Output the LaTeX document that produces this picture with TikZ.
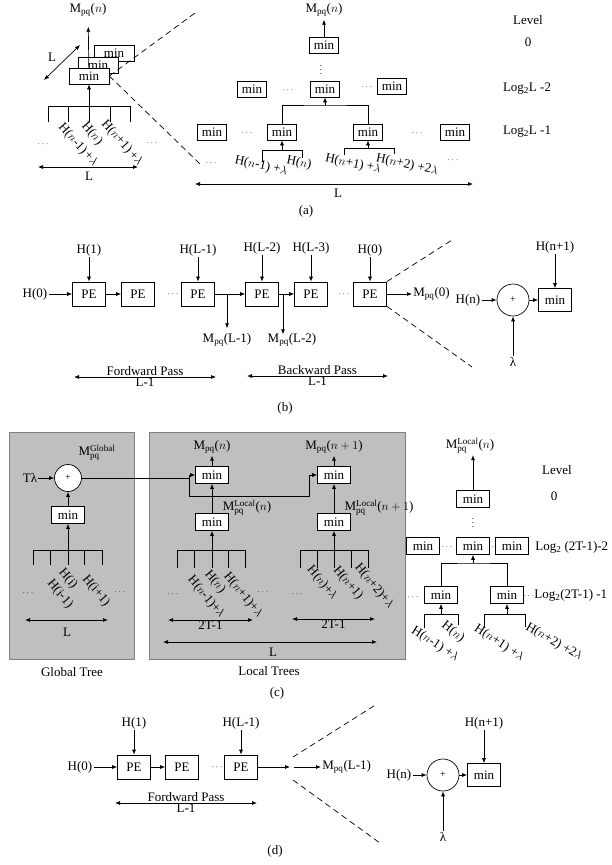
\documentclass[tikz,border=0pt]{standalone}
\usepackage{fontspec}
\setmainfont{Liberation Serif}
\usetikzlibrary{positioning, arrows.meta, calc}
\definecolor{panelfill}{HTML}{BFBFBF}
\definecolor{panelline}{HTML}{7F7F7F}
\newcommand{\Mpq}{M$_{\mathrm{pq}}$}
\newcommand{\Mloc}{M$^{\mathrm{Local}}_{\mathrm{pq}}$}
\newcommand{\Logtwo}{Log\textsubscript{2}}

\begin{document}
\begin{tikzpicture}[
    x=1pt, y=-1pt,
    >={Latex[length=5pt,width=4pt]},
    line width=0.7pt,
    every node/.style={font=\fontsize{13}{15}\selectfont},
    minbox/.style={draw, fill=white, minimum width=33pt, minimum height=17pt, inner sep=1pt},
    smallmin/.style={minbox, minimum width=29pt, minimum height=16pt},
    pebox/.style={draw, fill=white, minimum width=33pt, minimum height=24pt, inner sep=1pt},
    adder/.style={draw, circle, fill=white, minimum size=32pt, inner sep=0pt, font=\fontsize{10}{11}\selectfont},
    txt/.style={inner sep=1pt},
    tilted/.style={inner sep=0pt, rotate=#1},
    dotsnode/.style={inner sep=0pt, font=\fontsize{9}{10}\selectfont},
    guide/.style={dash pattern=on 6pt off 4pt},
    panel/.style={draw=panelline, fill=panelfill, line width=1pt},
]
\useasboundingbox (0,0) rectangle (612,865);

% ---------------- (a) ----------------
% stacked trees on the left
\node[minbox, minimum width=40pt, minimum height=16pt] (aback) at (114,53) {min};
\node[minbox, minimum width=40pt, minimum height=16pt] (amid) at (98,65) {min};
\node[minbox, minimum width=40pt, minimum height=16pt] (afront) at (89,76) {min};
\node[txt] (aout) at (88,10) {\Mpq($n$)};
\draw[->, shorten >=9pt] (afront) -- (aout);
\coordinate (aLa) at (44,80);
\coordinate (aLb) at (80,45);
\draw[<->] (aLa) -- (aLb);
\node[txt] (aLdiag) at (52,57) {L};
\coordinate (acomb) at (89,106);
\draw (48,122) -- (48,106) -- (130,106) -- (130,122)
      (68,106) -- (68,122) (89,106) -- (89,122) (110,106) -- (110,122);
\draw[->] (acomb) -- (afront);
\node[tilted=-48] (ahl1) at (78,145) {H($n$-1)\,+$\lambda$};
\node[tilted=-48] (ahl2) at (92,134) {H($n$)};
\node[tilted=-48] (ahl3) at (122,143) {H($n$+1)\,+$\lambda$};
\node[dotsnode] (ad1) at (43,144) {$\cdots$};
\node[dotsnode] (ad2) at (152,143) {$\cdots$};
\coordinate (aLl0) at (38,167);
\coordinate (aLr0) at (138,167);
\draw[<->] (aLl0) -- (aLr0);
\node[txt] (aL0) at (89,176) {L};
\coordinate (afanu) at (195,13);
\coordinate (afand) at (200,164);
\draw[guide] (afront.east) -- (afanu);
\draw[guide] (afront.east) -- (afand);

% one tree in detail
\node[smallmin] (aroot) at (324,45) {min};
\node[txt] (arootout) at (324,10) {\Mpq($n$)};
\draw[->, shorten >=2pt] (aroot) -- (arootout);
\node[dotsnode] (avd) at (321,67) {$\vdots$};
\node[smallmin] (a2l) at (252,89) {min};
\node[smallmin] (a2m) at (325,89) {min};
\node[smallmin] (a2r) at (392,86) {min};
\node[dotsnode] (a2d1) at (288,90) {$\cdots$};
\node[dotsnode] (a2d2) at (367,87) {$\cdots$};
\node[smallmin] (a1a) at (212,132) {min};
\node[smallmin] (a1b) at (282,132) {min};
\node[smallmin] (a1c) at (368,132) {min};
\node[smallmin] (a1d) at (455,132) {min};
\node[dotsnode] (a1d1) at (247,133) {$\cdots$};
\node[dotsnode] (a1d2) at (417,133) {$\cdots$};
\coordinate (ajoin) at (325,105);
\draw (a1b) |- (ajoin) -| (a1c);
\draw[->] (ajoin) -- (a2m);
\coordinate (acombl) at (282,150);
\coordinate (acombr) at (368,148);
\draw (262,162) -- (262,150) -- (302,150) -- (302,158);
\draw (344,155) -- (344,148) -- (394,148) -- (394,154);
\draw[->] (acombl) -- (a1b);
\draw[->] (acombr) -- (a1c);
\node[tilted=-12] (ah1) at (261,166) {H($n$-1) +$\lambda$};
\node[tilted=-12] (ah2) at (299,163) {H($n$)};
\node[tilted=-12] (ah3) at (353,164) {H($n$+1) +$\lambda$};
\node[tilted=-12] (ah4) at (407,165) {H($n$+2) +2$\lambda$};
\node[dotsnode] (ad3) at (211,163) {$\cdots$};
\node[dotsnode] (ad4) at (453,160) {$\cdots$};
\coordinate (aLl) at (195,184);
\coordinate (aLr) at (473,184);
\draw[<->] (aLl) -- (aLr);
\node[txt] (aL) at (338,193) {L};
\node[txt] (alev) at (528,20) {Level};
\node[txt] (alev0) at (528,42) {0};
\node[txt] (alev2) at (527,89) {\Logtwo L -2};
\node[txt] (alev1) at (527,132) {\Logtwo L -1};
\node[txt] (acap) at (306,211) {(a)};

% ---------------- (b) ----------------
\node[txt] (bh0in) at (35,294) {H(0)};
\node[pebox] (bpe1) at (89,294) {PE};
\node[pebox] (bpe2) at (138,294) {PE};
\node[dotsnode] (bd1) at (173,294) {$\cdots$};
\node[pebox] (bpe3) at (198,294) {PE};
\node[pebox] (bpe4) at (262,294) {PE};
\node[pebox] (bpe5) at (311,294) {PE};
\node[dotsnode] (bd2) at (344,294) {$\cdots$};
\node[pebox] (bpe6) at (370,294) {PE};
\node[txt] (bh1) at (89,250) {H(1)};
\node[txt] (bhl1) at (198,250) {H(L-1)};
\node[txt] (bhl2) at (262,248) {H(L-2)};
\node[txt] (bhl3) at (311,248) {H(L-3)};
\node[txt] (bh0) at (370,250) {H(0)};
\draw[->] (bh0in) -- (bpe1);
\draw[->] (bpe1) -- (bpe2);
\draw[->] (bpe3) -- (bpe4);
\draw[->] (bpe4) -- (bpe5);
\draw[->] (bh1) -- (bpe1);
\draw[->] (bhl1) -- (bpe3);
\draw[->] (bhl2) -- (bpe4);
\draw[->] (bhl3) -- (bpe5);
\draw[->] (bh0) -- (bpe6);
\coordinate (bsplit1) at (227,294);
\coordinate (bsplit2) at (283,294);
\node[txt] (bm1) at (227,340) {\Mpq(L-1)};
\node[txt] (bm2) at (292,340) {\Mpq(L-2)};
\draw[->, shorten >=4pt] (bsplit1) -- (bsplit1 |- bm1.north);
\draw[->, shorten >=-2pt] (bsplit2) -- (bsplit2 |- bm2.north);
\node[txt, anchor=west] (bm0) at (412,294) {\Mpq(0)};
\draw[->] (bpe6) -- (bm0);
\coordinate (bfanu) at (452,240);
\coordinate (bfand) at (472,367);
\draw[guide] (bpe6.north east) -- (bfanu);
\draw[guide] (bpe6.south east) -- (bfand);
\coordinate (bfwl) at (74,377);
\coordinate (bfwr) at (216,377);
\draw[<->] (bfwl) -- (bfwr)
    node[txt, midway, above] (bfwtxt) {Fordward Pass}
    node[txt, midway, below] (bfwlen) {L-1};
\coordinate (bbwl) at (247,376);
\coordinate (bbwr) at (388,376);
\draw[<->] (bbwl) -- (bbwr)
    node[txt, midway, above] (bbwtxt) {Backward Pass}
    node[txt, midway, below] (bbwlen) {L-1};
\node[txt] (bcap) at (285,408) {(b)};
% processing element
\node[adder] (badd) at (513,300) {+};
\node[minbox, minimum height=23pt] (bmin) at (555,300) {min};
\node[txt] (bhn) at (468,300) {H(n)};
\node[txt] (bhn1) at (555,247) {H(n+1)};
\node[txt] (blam) at (513,362) {λ};
\draw[->] (bhn) -- (badd);
\draw[->] (badd) -- (bmin);
\draw[->, shorten >=0pt] (bhn1) -- (bmin);
\draw[->] (blam) -- (badd);

% ---------------- (c) ----------------
\node[panel, minimum width=125pt, minimum height=227pt] (cglob) at (71.5,545.5) {};
\node[panel, minimum width=256pt, minimum height=227pt] (cloc) at (277,545.5) {};
\node[txt] (cglobcap) at (72,672) {Global Tree};
\node[txt] (cloccap) at (269,671) {Local Trees};
\node[txt] (ccap) at (277,693) {(c)};
% global tree
\node[adder, minimum size=27pt] (gadd) at (68,478) {+};
\node[txt] (gtl) at (30,478) {Tλ};
\node[txt] (gout) at (97,453) {M$^{\mathrm{Global}}_{\mathrm{pq}}$};
\node[minbox] (gmin) at (68,515) {min};
\draw[->] (gtl) -- (gadd);
\draw[->] (gmin) -- (gadd);
\coordinate (gcomb) at (68,550);
\draw (33,565) -- (33,550) -- (102,550) -- (102,565)
      (50,550) -- (50,565) (68,550) -- (68,565) (84,550) -- (84,565);
\draw[->] (gcomb) -- (gmin);
\node[tilted=-50] (gh1) at (60,594) {H(i-1)};
\node[tilted=-50] (gh2) at (68,579) {H(i)};
\node[tilted=-50] (gh3) at (96,591) {H(i+1)};
\node[dotsnode] (gd1) at (28,593) {$\cdots$};
\node[dotsnode] (gd2) at (120,592) {$\cdots$};
\coordinate (gLl) at (25,620);
\coordinate (gLr) at (108,620);
\draw[<->] (gLl) -- (gLr);
\node[txt] (gL) at (67,632) {L};
% local trees
\node[minbox] (lmin1) at (212,475) {min};
\node[minbox] (lmin1b) at (212,522) {min};
\node[minbox] (lmin2) at (334,475) {min};
\node[minbox] (lmin2b) at (334,522) {min};
\node[txt] (lout1) at (212,447) {\Mpq($n$)};
\node[txt] (lout2) at (334,447) {\Mpq($n+1$)};
\node[txt] (lloc1) at (247,508) {\Mloc($n$)};
\node[txt] (lloc2) at (379,508) {\Mloc($n+1$)};
\draw[->] (lmin1b) -- (lmin1);
\draw[->] (lmin2b) -- (lmin2);
\draw[->, shorten >=1pt] (lmin1) -- (lout1);
\draw[->, shorten >=1pt] (lmin2) -- (lout2);
\coordinate (csplit) at (189,478);
\coordinate (cjog) at (309,496);
\draw (gadd) -- (csplit);
\draw[->] (csplit) |- (lmin1);
\draw[->] (csplit) |- (cjog) |- (lmin2);
\coordinate (lcomb1) at (212,550);
\coordinate (lcomb2) at (334,550);
\draw (177,568) -- (177,550) -- (245,550) -- (245,568)
      (194,550) -- (194,568) (212,550) -- (212,568) (228,550) -- (228,568);
\draw (300,568) -- (300,550) -- (368,550) -- (368,568)
      (317,550) -- (317,568) (334,550) -- (334,568) (351,550) -- (351,568);
\draw[->] (lcomb1) -- (lmin1b);
\draw[->] (lcomb2) -- (lmin2b);
\node[tilted=-50] (lh1) at (206,597) {H($n$-1)+$\lambda$};
\node[tilted=-50] (lh2) at (215,582) {H($n$)};
\node[tilted=-50] (lh3) at (243,595) {H($n$+1)+$\lambda$};
\node[tilted=-50] (lh4) at (322,583) {H($n$)+$\lambda$};
\node[tilted=-50] (lh5) at (348,583) {H($n$+1)};
\node[tilted=-50] (lh6) at (374,586) {H($n$+2)+$\lambda$};
\node[dotsnode] (ld1) at (173,594) {$\cdots$};
\node[dotsnode] (ld2) at (263,592) {$\cdots$};
\node[dotsnode] (ld3) at (297,594) {$\cdots$};
\coordinate (lTl1) at (168,620);
\coordinate (lTr1) at (253,620);
\draw[<->] (lTl1) -- (lTr1) node[txt, midway, below] (lT1) {2T-1};
\coordinate (lTl2) at (292,619);
\coordinate (lTr2) at (375,619);
\draw[<->] (lTl2) -- (lTr2) node[txt, midway, below] (lT2) {2T-1};
\coordinate (lLl) at (163,642);
\coordinate (lLr) at (377,642);
\draw[<->] (lLl) -- (lLr);
\node[txt] (lL) at (273,652) {L};
% local tree in detail
\node[dotsnode] (r2d1) at (447,547) {$\cdots$};
\node[dotsnode] (r2d2) at (493,547) {$\cdots$};
\node[minbox] (rroot) at (473,499) {min};
\node[txt] (rout) at (470,446) {\Mloc($n$)};
\draw[->] (rroot) -- (rroot |- rout.south);
\node[dotsnode] (rvd) at (473,520) {$\vdots$};
\node[minbox] (r2a) at (423,546) {min};
\node[minbox] (r2b) at (473,546) {min};
\node[minbox] (r2c) at (512,546) {min};
\node[minbox] (r1a) at (441,595) {min};
\node[minbox] (r1b) at (507,595) {min};
\coordinate (rjoin) at (473,563);
\draw (r1a) |- (rjoin) -| (r1b);
\draw[->] (rjoin) -- (r2b);
\node[dotsnode] (rd1) at (413,597) {$\cdots$};
\node[dotsnode] (rd2) at (529,596) {$\cdots$};
\coordinate (rcomb1) at (441,614);
\coordinate (rcomb2) at (507,614);
\draw (424,628) -- (424,614) -- (458,614) -- (458,625);
\draw (484,627) -- (484,614) -- (525,614) -- (525,627);
\draw[->] (rcomb1) -- (r1a);
\draw[->] (rcomb2) -- (r1b);
\node[tilted=-33] (rh1) at (435,644) {H($n$-1) +$\lambda$};
\node[tilted=-38] (rh2) at (453,632) {H($n$)};
\node[tilted=-33] (rh3) at (499,643) {H($n$+1) +$\lambda$};
\node[tilted=-30] (rh4) at (554,642) {H($n$+2) +2$\lambda$};
\node[txt] (rlev) at (557,470) {Level};
\node[txt] (rlev0) at (554,496) {0};
\node[txt, anchor=west] (rlev2) at (534,547) {\Logtwo\ (2T-1)-2};
\node[txt, anchor=west] (rlev1) at (533,595) {\Logtwo(2T-1) -1};

% ---------------- (d) ----------------
\node[txt] (dh0) at (80,767) {H(0)};
\node[pebox] (dpe1) at (134,767) {PE};
\node[pebox] (dpe2) at (182,767) {PE};
\node[dotsnode] (dd1) at (217,767) {$\cdots$};
\node[pebox] (dpe3) at (241,767) {PE};
\node[txt] (dh1) at (134,723) {H(1)};
\node[txt] (dhl1) at (241,723) {H(L-1)};
\draw[->] (dh0) -- (dpe1);
\draw[->] (dpe1) -- (dpe2);
\draw[->] (dh1) -- (dpe1);
\draw[->] (dhl1) -- (dpe3);
\coordinate (dtip) at (290,767);
\coordinate (dfan) at (294,767);
\draw[->] (dpe3) -- (dtip);
\node[txt, anchor=west] (dm) at (321,767) {\Mpq(L-1)};
\draw[->] (dfan) -- (dm);
\coordinate (dfanut) at (293,757);
\coordinate (dfandt) at (293,780);
\coordinate (dfanu) at (377,704);
\coordinate (dfand) at (380,843);
\draw[guide] (dfanut) -- (dfanu);
\draw[guide] (dfandt) -- (dfand);
\coordinate (dfwl) at (115,803);
\coordinate (dfwr) at (257,803);
\draw[<->] (dfwl) -- (dfwr)
    node[txt, midway, above] (dfwtxt) {Fordward Pass}
    node[txt, midway, below] (dfwlen) {L-1};
\node[txt] (dcap) at (275,851) {(d)};
% processing element
\node[adder] (dadd) at (443,775) {+};
\node[minbox, minimum height=23pt] (dmin) at (484,775) {min};
\node[txt] (dhn) at (399,775) {H(n)};
\node[txt] (dhn1) at (484,723) {H(n+1)};
\node[txt] (dlam) at (443,837) {λ};
\draw[->] (dhn) -- (dadd);
\draw[->] (dadd) -- (dmin);
\draw[->] (dhn1) -- (dmin);
\draw[->] (dlam) -- (dadd);

\end{tikzpicture}
\end{document}
